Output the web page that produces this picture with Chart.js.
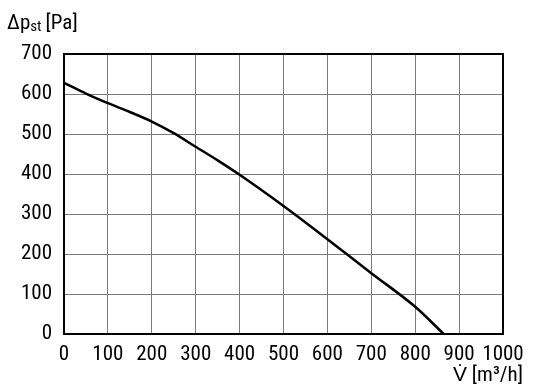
<!DOCTYPE html>
<html>
<head>
<meta charset="utf-8">
<script src="https://cdn.jsdelivr.net/npm/chart.js@4.4.1/dist/chart.umd.min.js"></script>
<style>
  html, body { margin: 0; padding: 0; background: #fff; }
  #wrap { width: 536px; height: 390px; }
</style>
</head>
<body>
<div id="wrap"><canvas id="fan-chart"></canvas></div>
<script>
// volume flow [m3/h] and static pressure [Pa]
const flow = [0, 50, 100, 150, 200, 250, 300, 350, 400, 500, 600, 700, 800, 865];
const pressure = [628, 601, 577, 555, 531, 502, 468, 434, 398, 320, 237, 152, 68, 0];
const xTicks = [0, 100, 200, 300, 400, 500, 600, 700, 800, 900, 1000];
const yTicks = [0, 100, 200, 300, 400, 500, 600, 700];

const FONT = "Roboto, sans-serif";
// 'condensed' goes into the weight slot so the font string picks Roboto Condensed
const tickFont = { family: FONT, size: 21, weight: 'condensed' };

// frame + axis titles with sub/superscripts
const labelsPlugin = {
  id: 'labels',
  afterDraw(chart) {
    const c = chart.ctx, a = chart.chartArea;
    c.save();
    c.strokeStyle = '#000';
    c.lineWidth = 2;
    c.strokeRect(a.left, a.top, a.right - a.left, a.bottom - a.top);

    c.fillStyle = '#000';
    c.textBaseline = 'alphabetic';
    c.textAlign = 'left';
    // y title: Δp_st [Pa]
    let x = 7;
    c.font = 'condensed 21px ' + FONT;
    c.fillText('Δp', x, 29);
    x += c.measureText('Δp').width;
    c.font = 'condensed 15px ' + FONT;
    c.fillText('st', x, 31);
    x += c.measureText('st').width + 4;
    c.font = 'condensed 21px ' + FONT;
    c.fillText('[Pa]', x, 29);

    // x title: V̇ [m³/h]
    c.textAlign = 'right';
    c.fillText('V\u0307 [m\u00B3/h]', 523, 381);
    c.restore();
  }
};

const ctx = document.getElementById('fan-chart').getContext('2d');
const myChart = new Chart(ctx, {
  type: 'line',
  data: {
    datasets: [{
      data: flow.map((v, i) => ({ x: v, y: pressure[i] })),
      borderColor: '#000',
      borderWidth: 2.5,
      pointRadius: 0,
      cubicInterpolationMode: 'monotone',
      fill: false
    }]
  },
  options: {
    responsive: true,
    maintainAspectRatio: false,
    animation: false,
    layout: { padding: { left: 0, top: 54, right: 33, bottom: 0 } },
    plugins: { legend: { display: false }, tooltip: { enabled: false } },
    scales: {
      x: {
        type: 'linear',
        min: 0,
        max: 1000,
        afterBuildTicks: s => { s.ticks = xTicks.map(v => ({ value: v })); },
        afterFit: s => { s.height = 56; },
        grid: { color: '#7a7a7a', lineWidth: 1, drawTicks: false },
        border: { color: '#000', width: 2 },
        ticks: {
          color: '#000', padding: 8, maxRotation: 0, autoSkip: false,
          font: tickFont, callback: v => String(v)
        }
      },
      y: {
        min: 0,
        max: 700,
        afterBuildTicks: s => { s.ticks = yTicks.map(v => ({ value: v })); },
        afterFit: s => { s.width = 64; },
        grid: { color: '#7a7a7a', lineWidth: 1, drawTicks: false },
        border: { color: '#000', width: 2 },
        ticks: { color: '#000', padding: 12, autoSkip: false, font: tickFont, callback: v => String(v) }
      }
    }
  },
  plugins: [labelsPlugin]
});
</script>
</body>
</html>
